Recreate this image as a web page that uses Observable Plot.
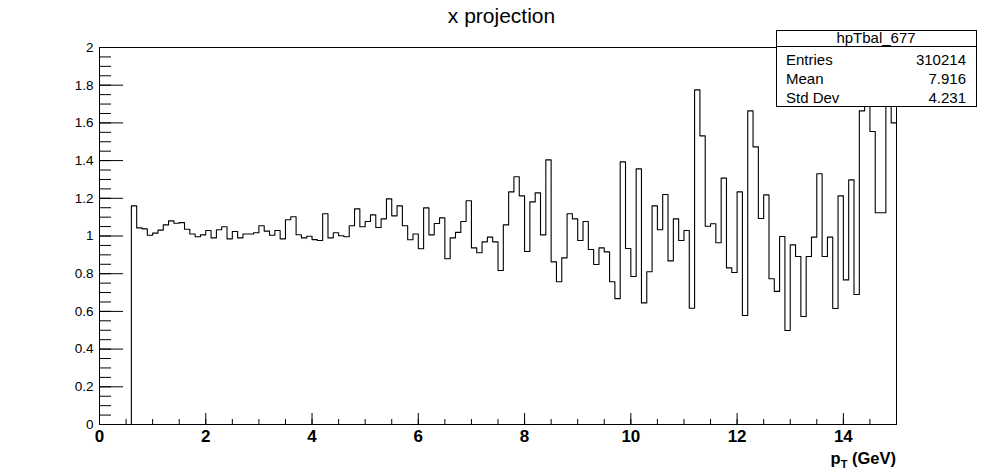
<!DOCTYPE html>
<html>
<head>
<meta charset="utf-8">
<script src="https://cdn.jsdelivr.net/npm/d3@7"></script>
<script src="https://cdn.jsdelivr.net/npm/@observablehq/plot@0.6"></script>
<style>
  html, body { margin: 0; padding: 0; background: #fff; }
  svg { font-family: "Liberation Sans", Helvetica, Arial, sans-serif; }
</style>
</head>
<body>
<div id="chart"></div>
<script>
// Histogram hpTbal_677: bin width 0.1 GeV, first non-empty bin starts at 0.6 GeV
const binStart = 0.6;
const binWidth = 0.1;
const binValues = [
  1.160, 1.043, 1.038, 1.004, 1.015, 1.031, 1.059, 1.080, 1.068, 1.071,
  1.036, 1.011, 0.996, 1.006, 1.029, 0.990, 1.033, 1.049, 0.985, 1.024,
  0.990, 1.011, 1.011, 1.017, 1.054, 1.026, 1.004, 1.029, 0.985, 1.086,
  1.102, 1.007, 0.990, 0.999, 0.981, 0.976, 1.118, 0.990, 1.017, 1.001,
  0.996, 1.054, 1.144, 1.049, 1.077, 1.112, 1.045, 1.091, 1.197, 1.107,
  1.160, 1.054, 0.980, 1.011, 0.932, 1.149, 1.006, 1.066, 1.096, 0.879,
  0.990, 1.019, 1.077, 1.187, 0.937, 0.911, 0.969, 0.994, 0.969, 0.817,
  1.059, 1.234, 1.314, 1.213, 0.918, 1.181, 1.229, 1.006, 1.404, 0.863,
  0.757, 0.884, 1.118, 1.091, 0.976, 1.077, 0.928, 0.849, 0.937, 0.916,
  0.757, 0.668, 1.393, 0.934, 0.785, 1.356, 0.645, 0.810, 1.160, 1.033,
  1.220, 0.868, 1.091, 0.976, 1.029, 0.617, 1.775, 1.531, 1.052, 1.065,
  0.964, 1.307, 0.831, 0.806, 1.234, 0.578, 1.664, 1.473, 1.093, 1.218,
  0.773, 0.706, 0.997, 0.499, 0.953, 0.891, 0.573, 0.891, 0.994, 1.330,
  0.891, 0.994, 0.615, 1.213, 0.767, 1.298, 0.690, 1.664, 1.850, 1.554,
  1.123, 1.123, 1.900, 1.600
];
const xDomain = [0, 15];
const yDomain = [0, 2];
const xMajorTicks = [0, 2, 4, 6, 8, 10, 12, 14];
const xMinorTicks = d3.range(0, 30).map(i => i * 0.5);
const yMajorTicks = d3.range(0, 11).map(i => +(i * 0.2).toFixed(2));
const yMinorTicks = d3.range(0, 41).map(i => +(i * 0.05).toFixed(2));
const titleText = "x projection";
const histName = "hpTbal_677";
const statsLabels = ["Entries", "Mean", "Std Dev"];
const statsValues = ["310214", "7.916", "4.231"];

// step points: zero before first bin, then each bin's lower edge, closing at the upper edge of the last bin
const points = [{x: xDomain[0], y: 0}];
binValues.forEach((v, i) => points.push({x: +(binStart + i * binWidth).toFixed(2), y: v}));
points.push({x: +(binStart + binValues.length * binWidth).toFixed(2), y: binValues[binValues.length - 1]});

const W = 996, H = 472;
const mL = 99, mR = 100, mT = 47, mB = 48;

const plot = Plot.plot({
  width: W,
  height: H,
  marginLeft: mL,
  marginRight: mR,
  marginTop: mT,
  marginBottom: mB,
  style: {fontFamily: '"Liberation Sans", Helvetica, Arial, sans-serif', color: "black", background: "white"},
  x: {domain: xDomain},
  y: {domain: yDomain},
  marks: [
    Plot.line(points, {x: "x", y: "y", curve: "step-after", stroke: "black", strokeWidth: 1.1, clip: true}),
    Plot.axisY(yMinorTicks, {tickSize: -12, fill: "none", label: null}),
    Plot.axisY(yMajorTicks, {tickSize: -24, fill: "none", label: null}),
    Plot.axisY(yMajorTicks, {tickSize: 0, tickPadding: 6, fontSize: 13.5, label: null, tickFormat: d => String(d)}),
    Plot.axisX(xMinorTicks, {tickSize: -5, fill: "none", label: null}),
    Plot.axisX(xMajorTicks, {tickSize: -11, fill: "none", label: null}),
    Plot.axisX(xMajorTicks, {tickSize: 0, tickPadding: 5, fontSize: 17, fontWeight: "bold", label: null, tickFormat: d => String(d)}),
    Plot.frame({stroke: "black"})
  ]
});

const svg = d3.select(plot);

// title
svg.append("text")
  .attr("x", (mL + (W - mR)) / 2 + 4)
  .attr("y", 23)
  .attr("text-anchor", "middle")
  .attr("font-size", 21)
  .attr("fill", "black")
  .text(titleText);

// x axis title p_T (GeV)
const xt = svg.append("text")
  .attr("x", W - mR)
  .attr("y", 464)
  .attr("text-anchor", "end")
  .attr("font-size", 16.5)
  .attr("font-weight", "bold")
  .attr("fill", "black");
xt.append("tspan").text("p");
xt.append("tspan").attr("font-size", 11).attr("dy", 4).text("T");
xt.append("tspan").attr("dy", -4).text(" (GeV)");

// stats box
const bx = 776, by = 30, bw = 200, bh = 76;
const g = svg.append("g");
g.append("rect").attr("x", bx + 0.5).attr("y", by + 0.5).attr("width", bw).attr("height", bh)
  .attr("fill", "white").attr("stroke", "black");
g.append("line").attr("x1", bx + 0.5).attr("x2", bx + bw + 0.5).attr("y1", by + 16.5).attr("y2", by + 16.5)
  .attr("stroke", "black");
g.append("text").attr("x", bx + bw / 2).attr("y", by + 12.5).attr("text-anchor", "middle")
  .attr("font-size", 15).attr("fill", "black").text(histName);
statsLabels.forEach((lab, i) => {
  const yy = by + 35 + i * 19;
  g.append("text").attr("x", bx + 10).attr("y", yy).attr("text-anchor", "start")
    .attr("font-size", 15).attr("fill", "black").text(lab);
  g.append("text").attr("x", bx + bw - 10).attr("y", yy).attr("text-anchor", "end")
    .attr("font-size", 15).attr("fill", "black").text(statsValues[i]);
});

document.getElementById("chart").appendChild(plot);
</script>
</body>
</html>
